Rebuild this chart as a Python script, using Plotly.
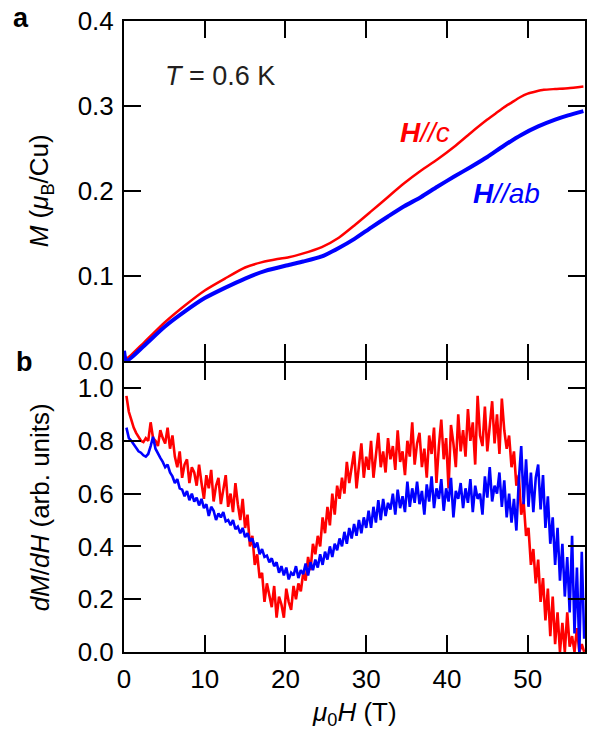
import plotly.graph_objects as go

# ---------------- Panel a: magnetization M (muB/Cu) ----------------
H_c = [0.0, 0.3, 2.5, 5.0, 7.5, 10.0, 12.5, 15.0, 17.0, 19.0, 20.4, 22.0, 24.5, 26.6,
       28.6, 30.6, 32.7, 34.7, 36.8, 38.8, 40.9, 42.9, 45.0, 46.0, 47.0, 48.0, 49.0,
       50.0, 51.0, 52.0, 53.4, 55.0, 56.9]
M_c = [0.006, 0.003, 0.022, 0.045, 0.065, 0.083, 0.097, 0.110, 0.116, 0.120, 0.122,
       0.126, 0.134, 0.145, 0.160, 0.176, 0.193, 0.209, 0.224, 0.237, 0.252, 0.268,
       0.284, 0.291, 0.298, 0.304, 0.310, 0.3145, 0.317, 0.319, 0.320, 0.321, 0.323]

H_ab = [0.0, 0.3, 2.5, 5.0, 7.5, 10.0, 12.5, 15.0, 17.5, 20.4, 22.2, 24.5, 26.6, 28.6,
        30.6, 32.7, 34.7, 36.8, 38.8, 40.9, 42.9, 45.0, 47.0, 49.2, 51.3, 53.4, 55.0,
        56.9]
M_ab = [0.012, 0.0, 0.018, 0.040, 0.058, 0.074, 0.086, 0.097, 0.106, 0.113, 0.117,
        0.123, 0.133, 0.144, 0.157, 0.170, 0.182, 0.193, 0.205, 0.217, 0.228, 0.240,
        0.253, 0.266, 0.276, 0.284, 0.289, 0.294]

# ---------------- Panel b: dM/dH (arb. units), sampled every 0.3 T from 0.3 T ----------------
dmdh_c = [
    0.97, 0.91, 0.88, 0.85, 0.83, 0.815, 0.80, 0.795, 0.81, 0.80,
    0.87, 0.81, 0.80, 0.78, 0.84, 0.81, 0.79, 0.85, 0.77, 0.82,
    0.74, 0.70, 0.76, 0.66, 0.71, 0.73, 0.64, 0.70, 0.68, 0.63,
    0.71, 0.64, 0.58, 0.67, 0.62, 0.69, 0.57, 0.63, 0.66, 0.56,
    0.62, 0.67, 0.55, 0.60, 0.53, 0.64, 0.56, 0.50, 0.58, 0.47,
    0.52, 0.40, 0.44, 0.33, 0.37, 0.28, 0.30, 0.19, 0.26, 0.21,
    0.17, 0.25, 0.13, 0.21, 0.18, 0.13, 0.24, 0.19, 0.16, 0.25,
    0.20, 0.26, 0.23, 0.30, 0.27, 0.36, 0.31, 0.41, 0.37, 0.44,
    0.40, 0.51, 0.45, 0.55, 0.48, 0.60, 0.52, 0.63, 0.58, 0.66,
    0.60, 0.72, 0.64, 0.70, 0.76, 0.62, 0.71, 0.79, 0.66, 0.74,
    0.69, 0.80, 0.66, 0.74, 0.83, 0.70, 0.76, 0.68, 0.81, 0.73,
    0.78, 0.69, 0.84, 0.72, 0.76, 0.67, 0.80, 0.74, 0.87, 0.71,
    0.79, 0.83, 0.70, 0.77, 0.66, 0.82, 0.75, 0.85, 0.64, 0.78,
    0.88, 0.73, 0.81, 0.62, 0.86, 0.79, 0.70, 0.90, 0.76, 0.84,
    0.74, 0.92, 0.80, 0.87, 0.71, 0.97, 0.82, 0.78, 0.93, 0.76,
    0.86, 0.95, 0.79, 0.90, 0.75, 0.96, 0.84, 0.77, 0.82, 0.70,
    0.76, 0.63, 0.67, 0.52, 0.57, 0.44, 0.47, 0.33, 0.39, 0.26,
    0.35, 0.19, 0.28, 0.12, 0.24, 0.06, 0.21, 0.03, 0.15, 0.00,
    0.11, 0.00, 0.15, 0.02, 0.06, 0.00, 0.09, 0.00, 0.03, 0.00,
]
dmdh_ab = [
    0.85, 0.81, 0.80, 0.785, 0.775, 0.76, 0.755, 0.745, 0.74, 0.75,
    0.78, 0.815, 0.77, 0.75, 0.735, 0.72, 0.70, 0.71, 0.68, 0.665,
    0.64, 0.655, 0.62, 0.615, 0.59, 0.61, 0.575, 0.60, 0.57, 0.585,
    0.555, 0.58, 0.545, 0.56, 0.515, 0.55, 0.535, 0.50, 0.525, 0.51,
    0.53, 0.495, 0.50, 0.48, 0.50, 0.465, 0.475, 0.45, 0.47, 0.435,
    0.45, 0.42, 0.43, 0.395, 0.415, 0.37, 0.39, 0.36, 0.365, 0.34,
    0.355, 0.325, 0.34, 0.30, 0.325, 0.29, 0.32, 0.275, 0.30, 0.29,
    0.325, 0.28, 0.31, 0.295, 0.335, 0.29, 0.34, 0.31, 0.35, 0.32,
    0.37, 0.33, 0.38, 0.35, 0.40, 0.36, 0.41, 0.385, 0.43, 0.40,
    0.455, 0.41, 0.47, 0.43, 0.485, 0.44, 0.50, 0.45, 0.51, 0.47,
    0.535, 0.47, 0.55, 0.49, 0.575, 0.50, 0.58, 0.515, 0.565, 0.54,
    0.60, 0.52, 0.615, 0.545, 0.59, 0.53, 0.645, 0.55, 0.62, 0.565,
    0.645, 0.56, 0.61, 0.52, 0.635, 0.57, 0.665, 0.545, 0.62, 0.58,
    0.655, 0.535, 0.62, 0.57, 0.66, 0.51, 0.61, 0.58, 0.64, 0.545,
    0.62, 0.565, 0.655, 0.53, 0.63, 0.58, 0.60, 0.52, 0.665, 0.585,
    0.70, 0.57, 0.63, 0.60, 0.68, 0.55, 0.65, 0.51, 0.60, 0.49,
    0.58, 0.46, 0.65, 0.78, 0.56, 0.73, 0.55, 0.68, 0.53, 0.66,
    0.71, 0.54, 0.67, 0.47, 0.59, 0.41, 0.51, 0.33, 0.47, 0.27,
    0.41, 0.21, 0.36, 0.15, 0.44, 0.07, 0.32, 0.00, 0.38, 0.05,
]
H_b_c = [round(0.3 * (i + 1), 2) for i in range(len(dmdh_c))]
H_b_ab = [round(0.3 * (i + 1), 2) for i in range(len(dmdh_ab))]

x_ticks = [0, 10, 20, 30, 40, 50]
RED = "#ff0000"
BLUE = "#0000ff"
FONT = "Arial, Liberation Sans, sans-serif"

fig = go.Figure()
fig.add_trace(go.Scatter(x=H_c, y=M_c, mode="lines", line=dict(color=RED, width=2.5, shape="spline", smoothing=0.6),
                         xaxis="x2", yaxis="y2", showlegend=False))
fig.add_trace(go.Scatter(x=H_ab, y=M_ab, mode="lines", line=dict(color=BLUE, width=4, shape="spline", smoothing=0.6),
                         xaxis="x2", yaxis="y2", showlegend=False))
fig.add_trace(go.Scatter(x=H_b_c, y=dmdh_c, mode="lines", line=dict(color=RED, width=2.6),
                         xaxis="x", yaxis="y", showlegend=False))
fig.add_trace(go.Scatter(x=H_b_ab, y=dmdh_ab, mode="lines", line=dict(color=BLUE, width=2.6),
                         xaxis="x", yaxis="y", showlegend=False))

split_a = 291 / 631
split_b = 289 / 631
tickfont = dict(family=FONT, size=26, color="black")
common = dict(showline=True, linecolor="black", linewidth=2, mirror="ticks", ticks="inside",
              ticklen=17, tickwidth=2, tickcolor="black", showgrid=False, zeroline=False,
              tickfont=tickfont)

fig.update_layout(
    width=589, height=730,
    margin=dict(l=124, r=2, t=21, b=78),
    paper_bgcolor="white", plot_bgcolor="white",
    font=dict(family=FONT, color="black"),
    xaxis=dict(domain=[0, 1], range=[0, 57.1], tickvals=x_ticks, anchor="y",
               ticklabelstandoff=3, **common),
    yaxis=dict(domain=[0, split_b], range=[0, 1.0947], tickvals=[0, 0.2, 0.4, 0.6, 0.8, 1.0],
               tickformat=".1f", anchor="x", ticklabelstandoff=3, **common),
    xaxis2=dict(domain=[0, 1], range=[0, 57.1], tickvals=x_ticks, anchor="y2",
                showticklabels=False, matches="x", **common),
    yaxis2=dict(domain=[split_a, 1], range=[0, 0.4], tickvals=[0, 0.1, 0.2, 0.3, 0.4],
                tickformat=".1f", anchor="x2", ticklabelstandoff=3, **common),
)

def yp(py):
    return (652 - py) / 631

def xp(px):
    return (px - 124) / 463

ann = [
    dict(text="<b>a</b>", x=xp(21), y=yp(18), size=27, color="black"),
    dict(text="<b>b</b>", x=xp(24), y=yp(362), size=27, color="black"),
    dict(text="<i>M</i> (<i>μ</i><sub>B</sub>/Cu)", x=xp(40), y=yp(191), size=26, color="black", angle=-90),
    dict(text="<i>dM</i>/<i>dH</i> (arb. units)", x=xp(40), y=yp(507), size=26, color="black", angle=-90),
    dict(text="<i>μ</i><sub>0</sub><i>H</i> (T)", x=xp(355.5), y=yp(713), size=26, color="black"),
    dict(text="<i>T</i> = 0.6 K", x=xp(220), y=yp(76), size=27, color="#231f20"),
    dict(text="<b><i>H</i></b><i>//c</i>", x=xp(426), y=yp(132), size=28, color=RED),
    dict(text="<b><i>H</i></b><i>//ab</i>", x=xp(508), y=yp(193), size=28, color=BLUE),
]
for a in ann:
    fig.add_annotation(text=a["text"], x=a["x"], y=a["y"], xref="paper", yref="paper",
                       xanchor="center", yanchor="middle", showarrow=False,
                       textangle=a.get("angle", 0),
                       font=dict(family=FONT, size=a["size"], color=a["color"]))

fig.write_html("out.html", config={"displayModeBar": False},
               post_script="document.body.style.margin='0px';")
